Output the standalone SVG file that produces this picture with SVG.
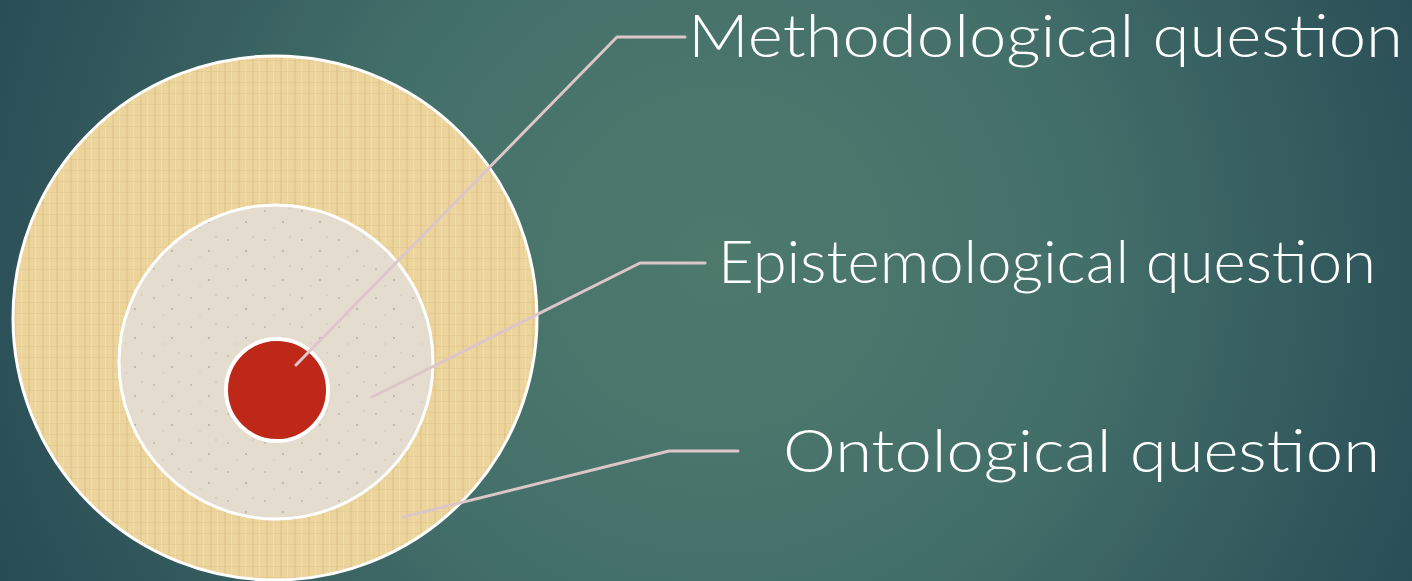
<svg xmlns="http://www.w3.org/2000/svg" width="1412" height="581" viewBox="0 0 1412 581">
<style>
.lbl{font-family:Lato,"Liberation Sans",sans-serif;font-weight:300;font-size:60px;fill:#ffffff}
.conn{fill:none;stroke:#ddc6ca;stroke-width:3;stroke-linecap:round;stroke-linejoin:round}
.ring{stroke:#ffffff;stroke-width:3}
</style>
<defs>
<radialGradient id="bg" cx="720" cy="260" r="780" gradientUnits="userSpaceOnUse">
<stop offset="0" stop-color="#4e7a6c"/>
<stop offset="0.45" stop-color="#44706a"/>
<stop offset="1" stop-color="#284c55"/>
</radialGradient>
<pattern id="papyrus" width="14" height="11" patternUnits="userSpaceOnUse">
<rect width="14" height="11" fill="#ecd49d"/>
<rect x="0" y="0" width="2" height="11" fill="#dcc085" opacity="0.5"/>
<rect x="7" y="0" width="1" height="11" fill="#f4e0b0" opacity="0.7"/>
<rect x="0" y="5" width="14" height="1" fill="#d9bd82" opacity="0.35"/>
</pattern>
<pattern id="stone" width="37" height="29" patternUnits="userSpaceOnUse">
<rect width="37" height="29" fill="#e4dccf"/>
<circle cx="6" cy="8" r="1" fill="#a9a196" opacity="0.6"/>
<circle cx="24" cy="19" r="1.2" fill="#9c958a" opacity="0.5"/>
<circle cx="31" cy="5" r="0.8" fill="#b0a89c" opacity="0.6"/>
<circle cx="15" cy="25" r="0.7" fill="#b5ada2" opacity="0.6"/>
</pattern>
</defs>
<rect width="1412" height="581" fill="url(#bg)"/>
<g id="outer-circle">
<circle class="ring" cx="275" cy="318" r="262" fill="url(#papyrus)"/>
</g>
<g id="middle-circle">
<circle class="ring" cx="276" cy="362" r="157" fill="url(#stone)"/>
</g>
<g id="inner-circle">
<circle cx="277" cy="390" r="51" fill="#be2818" stroke="#ffffff" stroke-width="4"/>
</g>
<g id="connectors">
<polyline class="conn" points="296,365 617,37 685,37"/>
<polyline class="conn" points="372,397 640,263 705,263"/>
<polyline class="conn" points="403,517 669,451 738,451"/>
</g>
<g id="label-methodological">
<text class="lbl" x="688" y="57" textLength="715" lengthAdjust="spacingAndGlyphs">Methodological question</text>
</g>
<g id="label-epistemological">
<text class="lbl" x="718" y="283" textLength="658" lengthAdjust="spacingAndGlyphs">Epistemological question</text>
</g>
<g id="label-ontological">
<text class="lbl" x="783" y="472" textLength="597" lengthAdjust="spacingAndGlyphs">Ontological question</text>
</g>
</svg>
